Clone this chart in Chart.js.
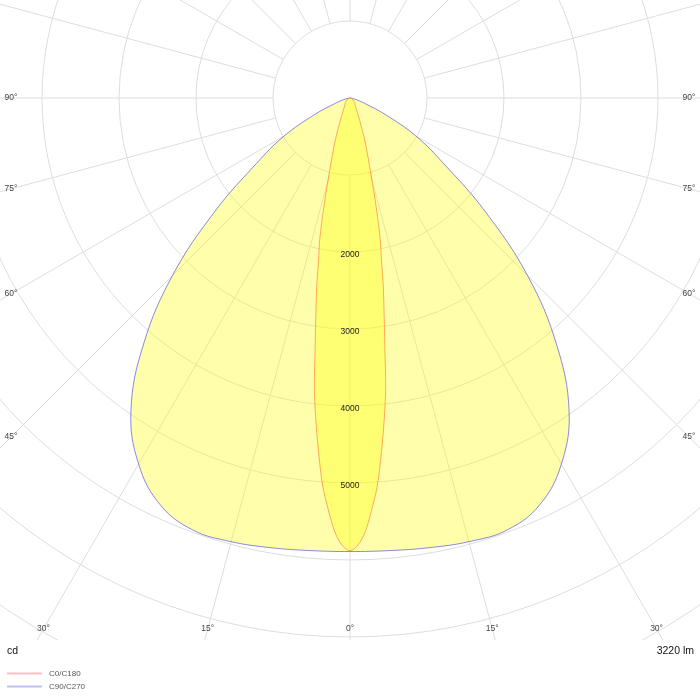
<!DOCTYPE html>
<html>
<head>
<meta charset="utf-8">
<script src="https://cdn.jsdelivr.net/npm/chart.js@4.4.1/dist/chart.umd.min.js"></script>
<style>
  html, body { margin: 0; padding: 0; background: #fff; }
  #wrap { width: 700px; height: 700px; }
</style>
</head>
<body>
<div id="wrap"><canvas id="ldc"></canvas></div>
<script>
// gamma angles (degrees from nadir) and luminous intensity in cd
const gammaC0 = [0, 1, 2, 3, 4, 5, 6, 7, 8, 9, 10, 11, 12, 13, 14, 15, 16, 18, 20, 22, 25, 30, 35, 40, 45, 50, 60, 70, 80, 90];
const c0   = [5880, 5810, 5640, 5360, 5060, 4650, 4230, 3800, 3250, 2830, 2490, 2140, 1900, 1600, 1330, 1090, 930, 690, 520, 380, 260, 160, 120, 100, 90, 70, 40, 20, 5, 0];
const c180 = [5880, 5810, 5640, 5360, 5060, 4650, 4230, 3800, 3250, 2830, 2490, 2140, 1900, 1600, 1330, 1090, 930, 690, 520, 380, 260, 160, 120, 100, 90, 70, 40, 20, 5, 0];

const gammaC90 = [0, 5, 10, 15, 20, 25, 30, 35, 40, 45, 50, 55, 60, 65, 70, 75, 80, 85, 90];
const c90  = [5890, 5900, 5930, 5965, 5970, 5830, 5490, 4960, 4170, 3260, 2290, 1485, 990, 500, 200, 90, 35, 10, 0];
const c270 = [5890, 5900, 5930, 5965, 5970, 5830, 5490, 4960, 4170, 3260, 2290, 1485, 990, 500, 200, 90, 35, 10, 0];

const ringValues = [1000, 2000, 3000, 4000, 5000, 6000, 7000, 8000, 9000, 10000];
const ringLabels = [2000, 3000, 4000, 5000];
const angleTicks = [0, 15, 30, 45, 60, 75, 90];
const unitText = 'cd';
const fluxText = '3220 lm';

// left half (C180 / C270) runs from 90 deg down to nadir, right half back up
function polarPoints(gammas, left, right) {
  const pts = [];
  for (let i = gammas.length - 1; i >= 0; i--) {
    const g = gammas[i] * Math.PI / 180;
    pts.push({ x: -left[i] * Math.sin(g), y: -left[i] * Math.cos(g) });
  }
  for (let i = 1; i < gammas.length; i++) {
    const g = gammas[i] * Math.PI / 180;
    pts.push({ x: right[i] * Math.sin(g), y: -right[i] * Math.cos(g) });
  }
  return pts;
}

const FONT = '"Liberation Sans", Arial, sans-serif';

const polarGrid = {
  id: 'polarGrid',
  beforeDatasetsDraw(chart) {
    const { ctx, chartArea: a, scales } = chart;
    const cx = scales.x.getPixelForValue(0);
    const cy = scales.y.getPixelForValue(0);
    const k = (scales.x.getPixelForValue(1000) - cx) / 1000;
    ctx.save();
    ctx.beginPath();
    ctx.rect(a.left, a.top, a.right - a.left, a.bottom - a.top);
    ctx.clip();
    ctx.strokeStyle = '#dddddd';
    ctx.lineWidth = 1;
    ringValues.forEach(v => {
      ctx.beginPath();
      ctx.arc(cx, cy, v * k, 0, Math.PI * 2);
      ctx.stroke();
    });
    const r0 = ringValues[0] * k;
    for (let deg = 0; deg < 360; deg += 15) {
      const t = deg * Math.PI / 180;
      const dx = Math.sin(t), dy = Math.cos(t);
      ctx.beginPath();
      ctx.moveTo(cx + dx * r0, cy + dy * r0);
      ctx.lineTo(cx + dx * 1200, cy + dy * 1200);
      ctx.stroke();
    }
    ctx.restore();
  },
  afterDatasetsDraw(chart) {
    const { ctx, chartArea: a, scales } = chart;
    const cx = scales.x.getPixelForValue(0);
    const cy = scales.y.getPixelForValue(0);
    const k = (scales.x.getPixelForValue(1000) - cx) / 1000;
    ctx.save();
    ctx.textAlign = 'center';
    ctx.textBaseline = 'middle';

    // intensity values on the nadir axis
    ctx.font = '8.5px ' + FONT;
    ctx.fillStyle = '#222';
    ringLabels.forEach(v => ctx.fillText(String(v), cx, cy + v * k + 2.5));

    // gamma labels where each ray meets the inset frame
    const inset = 11;
    ctx.fillStyle = '#444';
    angleTicks.forEach(g => {
      const t = g * Math.PI / 180;
      const sides = g === 0 ? [1] : [-1, 1];
      sides.forEach(s => {
        const dx = s * Math.sin(t), dy = Math.cos(t);
        let d = Infinity;
        if (dx < -1e-9) d = Math.min(d, (a.left + inset - cx) / dx);
        if (dx > 1e-9) d = Math.min(d, (a.right - inset - cx) / dx);
        if (dy > 1e-9) d = Math.min(d, (a.bottom - inset - cy) / dy);
        ctx.fillText(g + '°', cx + dx * d, cy + dy * d);
      });
    });

    // unit and flux
    ctx.font = '10.5px ' + FONT;
    ctx.fillStyle = '#111';
    ctx.textAlign = 'left';
    ctx.fillText(unitText, 7, a.bottom + 11);
    ctx.textAlign = 'right';
    ctx.fillText(fluxText, 694, a.bottom + 11);

    // legend
    ctx.textAlign = 'left';
    ctx.font = '8px ' + FONT;
    const legendColors = ['rgba(255,0,40,0.25)', 'rgba(0,0,220,0.25)'];
    chart.data.datasets.forEach((ds, i) => {
      const y = a.bottom + 33.5 + i * 13;
      ctx.strokeStyle = legendColors[i];
      ctx.lineWidth = 2;
      ctx.beginPath();
      ctx.moveTo(7, y);
      ctx.lineTo(42, y);
      ctx.stroke();
      ctx.fillStyle = '#555';
      ctx.fillText(ds.label, 49, y + 0.5);
    });
    ctx.restore();
  }
};

new Chart(document.getElementById('ldc'), {
  type: 'scatter',
  data: {
    datasets: [
      {
        label: 'C0/C180',
        data: polarPoints(gammaC0, c180, c0),
        showLine: true,
        fill: 'shape',
        backgroundColor: 'rgba(255,255,0,0.33)',
        borderColor: 'rgba(255,100,40,0.55)',
        borderWidth: 1,
        pointRadius: 0,
        tension: 0.3
      },
      {
        label: 'C90/C270',
        data: polarPoints(gammaC90, c270, c90),
        showLine: true,
        fill: 'shape',
        backgroundColor: 'rgba(255,255,0,0.33)',
        borderColor: 'rgba(60,60,220,0.6)',
        borderWidth: 1,
        pointRadius: 0,
        tension: 0.4
      }
    ]
  },
  options: {
    responsive: true,
    maintainAspectRatio: false,
    animation: false,
    layout: { padding: { left: 0, right: 0, top: 0, bottom: 60 } },
    scales: {
      x: { type: 'linear', min: -4545.5, max: 4545.5, display: false },
      y: { type: 'linear', min: -7039, max: 1272.7, display: false }
    },
    plugins: {
      legend: { display: false },
      tooltip: { enabled: false }
    }
  },
  plugins: [polarGrid]
});
</script>
</body>
</html>
